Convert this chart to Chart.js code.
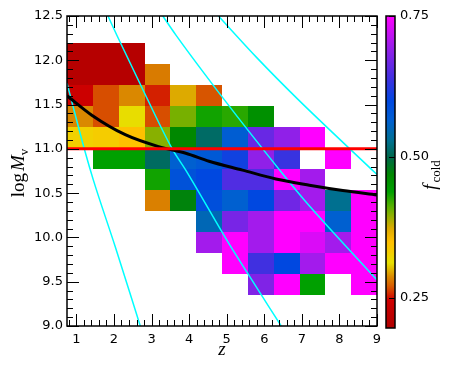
<!DOCTYPE html>
<html>
<head>
<meta charset="utf-8">
<script src="https://cdn.jsdelivr.net/npm/chart.js@4/dist/chart.umd.min.js"></script>
<style>
  html, body { margin: 0; padding: 0; background: #fff; }
</style>
</head>
<body>
<canvas id="chart" width="461" height="369"></canvas>
<script>
// bin edges of the 2D histogram
const zEdges = [0.75, 1.4375, 2.125, 2.8125, 3.5, 4.1875, 4.875, 5.5625, 6.25, 6.9375, 7.625, 8.3125, 9];
const massEdges = [12.2, 11.9625, 11.725, 11.4875, 11.25, 11.0125, 10.775, 10.5375, 10.3, 10.0625, 9.825, 9.5875, 9.35];

// f_cold per cell, rows from top (high mass) to bottom, null = empty
const fCold = [
  [0.21, 0.21, 0.21, null, null, null, null, null, null, null, null, null],
  [0.21, 0.21, 0.21, 0.285, null, null, null, null, null, null, null, null],
  [0.245, 0.27, 0.29, 0.258, 0.375, 0.272, null, null, null, null, null, null],
  [0.29, 0.27, 0.318, 0.27, 0.405, 0.435, 0.428, 0.46, null, null, null, null],
  [0.33, 0.335, 0.35, 0.40, 0.47, 0.512, 0.57, 0.665, 0.69, 0.75, null, null],
  [null, 0.44, 0.44, 0.51, 0.565, 0.575, 0.61, 0.69, 0.635, null, 0.75, null],
  [null, null, null, 0.435, 0.585, 0.60, 0.65, 0.65, 0.75, 0.70, null, null],
  [null, null, null, 0.287, 0.475, 0.59, 0.565, 0.60, 0.67, 0.70, 0.53, 0.75],
  [null, null, null, null, null, 0.55, 0.675, 0.70, 0.75, 0.75, 0.565, 0.75],
  [null, null, null, null, null, 0.70, 0.75, 0.70, 0.75, 0.73, 0.70, 0.75],
  [null, null, null, null, null, null, 0.75, 0.64, 0.60, 0.70, 0.75, 0.75],
  [null, null, null, null, null, null, null, 0.68, 0.75, 0.44, null, 0.75]
];

// overplotted curves (z, log Mv)
const cyanA = [{x: 0.75, y: 11.74}, {x: 1.23, y: 10.97}, {x: 1.45, y: 10.65}, {x: 2.03, y: 9.9}, {x: 2.7, y: 9.0}];
const cyanB = [{x: 1.84, y: 12.5}, {x: 2.08, y: 12.28}, {x: 2.79, y: 11.65}, {x: 3.55, y: 11.0}, {x: 3.91, y: 10.76}, {x: 5.06, y: 9.93}, {x: 5.55, y: 9.6}, {x: 6.45, y: 9.0}];
const cyanC = [{x: 3.30, y: 12.5}, {x: 3.64, y: 12.29}, {x: 4.98, y: 11.53}, {x: 6.41, y: 10.76}, {x: 7.07, y: 10.42}, {x: 9.0, y: 9.52}];
const cyanD = [{x: 4.78, y: 12.5}, {x: 5.8, y: 12.03}, {x: 6.87, y: 11.57}, {x: 9.0, y: 10.71}];
const blackCurve = [{x: 0.75, y: 11.6}, {x: 1.41, y: 11.38}, {x: 2.30, y: 11.16}, {x: 3.19, y: 11.025}, {x: 3.91, y: 10.95}, {x: 4.53, y: 10.86}, {x: 5.42, y: 10.76}, {x: 6.31, y: 10.66}, {x: 7.20, y: 10.59}, {x: 8.09, y: 10.53}, {x: 9.0, y: 10.48}];
const redLine = [{x: 0.75, y: 11.0}, {x: 9.0, y: 11.0}];

const xTicks = [1, 2, 3, 4, 5, 6, 7, 8, 9];
const yTicks = [9.0, 9.5, 10.0, 10.5, 11.0, 11.5, 12.0, 12.5];
const cbTicks = [0.25, 0.50, 0.75];

// colour map
const cmap = [
  [0.20, '#b00000'], [0.235, '#c40000'], [0.25, '#d00000'], [0.262, '#d53000'],
  [0.275, '#d86000'], [0.29, '#da8800'], [0.315, '#e6e000'], [0.335, '#f5cc00'],
  [0.352, '#ffc000'], [0.375, '#ddaa00'], [0.40, '#88b000'], [0.415, '#55b000'],
  [0.44, '#00a000'], [0.47, '#008800'], [0.50, '#006848'], [0.53, '#007090'],
  [0.565, '#0060d0'], [0.60, '#0048e0'], [0.64, '#4030e0'], [0.69, '#9020e8'],
  [0.75, '#ff00ff']
];

function hexRgb(h) {
  return [parseInt(h.slice(1, 3), 16), parseInt(h.slice(3, 5), 16), parseInt(h.slice(5, 7), 16)];
}
function colorFor(v) {
  if (v <= cmap[0][0]) return cmap[0][1];
  for (let i = 1; i < cmap.length; i++) {
    if (v <= cmap[i][0]) {
      const t = (v - cmap[i - 1][0]) / (cmap[i][0] - cmap[i - 1][0]);
      const a = hexRgb(cmap[i - 1][1]), b = hexRgb(cmap[i][1]);
      const c = a.map((ch, k) => Math.round(ch + (b[k] - ch) * t));
      return `rgb(${c[0]},${c[1]},${c[2]})`;
    }
  }
  return cmap[cmap.length - 1][1];
}

const tickFont = {family: 'DejaVu Sans', size: 13};

const heatmapPlugin = {
  id: 'heatmap',
  beforeDatasetsDraw(chart) {
    const {ctx, scales: {x, y}} = chart;
    ctx.save();
    fCold.forEach((row, i) => {
      row.forEach((v, j) => {
        if (v === null) return;
        const x0 = Math.round(x.getPixelForValue(zEdges[j]));
        const x1 = Math.round(x.getPixelForValue(zEdges[j + 1]));
        const y0 = Math.round(y.getPixelForValue(massEdges[i]));
        const y1 = Math.round(y.getPixelForValue(massEdges[i + 1]));
        ctx.fillStyle = colorFor(v);
        ctx.fillRect(x0, y0, x1 - x0, y1 - y0);
      });
    });
    ctx.restore();
  }
};

const framePlugin = {
  id: 'frame',
  afterDatasetsDraw(chart) {
    const {ctx, chartArea: a, scales: {x, y, cb}} = chart;
    ctx.save();
    ctx.strokeStyle = '#000';
    ctx.lineWidth = 1;
    ctx.beginPath();
    // x ticks, bottom and top, pointing inward
    for (let k = 4; k <= 45; k++) {
      const v = k / 5;
      if (v < 0.75 || v > 9) continue;
      const px = Math.round(x.getPixelForValue(v)) + 0.5;
      const len = k % 5 === 0 ? 12 : 6;
      ctx.moveTo(px, a.bottom); ctx.lineTo(px, a.bottom - len);
      ctx.moveTo(px, a.top); ctx.lineTo(px, a.top + len);
    }
    // y ticks, left and right
    for (let k = 90; k <= 125; k++) {
      const py = Math.round(y.getPixelForValue(k / 10)) + 0.5;
      const len = k % 5 === 0 ? 12 : 6;
      ctx.moveTo(a.left, py); ctx.lineTo(a.left + len, py);
      ctx.moveTo(a.right, py); ctx.lineTo(a.right - len, py);
    }
    ctx.stroke();
    ctx.lineWidth = 1.5;
    ctx.strokeRect(a.left, a.top, a.right - a.left, a.bottom - a.top);

    // colour bar
    const bx0 = a.right + 9, bx1 = a.right + 18;
    const top = cb.getPixelForValue(0.75), bot = cb.getPixelForValue(0.2) + 2;
    const g = ctx.createLinearGradient(0, bot, 0, top);
    cmap.forEach(([v, c]) => g.addColorStop((v - 0.2) / 0.55, c));
    ctx.fillStyle = g;
    ctx.fillRect(bx0, top, bx1 - bx0, bot - top);
    ctx.lineWidth = 1;
    ctx.beginPath();
    cbTicks.forEach(v => {
      const py = Math.round(cb.getPixelForValue(v)) + 0.5;
      ctx.moveTo(bx1, py); ctx.lineTo(bx1 - 6, py);
    });
    ctx.stroke();
    ctx.lineWidth = 1.5;
    ctx.strokeRect(bx0, top, bx1 - bx0, bot - top);
    ctx.restore();
  },
  afterDraw(chart) {
    const {ctx, chartArea: a} = chart;
    ctx.save();
    ctx.fillStyle = '#000';
    ctx.textBaseline = 'alphabetic';
    // x title
    ctx.font = 'italic 19px "Liberation Serif"';
    ctx.textAlign = 'center';
    ctx.fillText('z', (a.left + a.right) / 2, 355);

    // y title: log M_v
    const cy = (a.top + a.bottom) / 2 + 2;
    ctx.translate(24, cy);
    ctx.rotate(-Math.PI / 2);
    ctx.textAlign = 'left';
    const parts = [
      ['log', '19px "Liberation Serif"', 0],
      ['M', 'italic 19px "Liberation Serif"', 0],
      ['v', '13px "Liberation Serif"', 4]
    ];
    let w = 0;
    parts.forEach(p => { ctx.font = p[1]; w += ctx.measureText(p[0]).width; });
    w += 2;
    let px = -w / 2;
    parts.forEach((p, i) => {
      ctx.font = p[1];
      ctx.fillText(p[0], px, p[2]);
      px += ctx.measureText(p[0]).width + (i === 0 ? 2 : 0);
    });
    ctx.setTransform(1, 0, 0, 1, 0, 0);

    // colour bar title: f_cold
    ctx.translate(436, cy + 2);
    ctx.rotate(-Math.PI / 2);
    const cparts = [
      ['f', 'italic 19px "Liberation Serif"', 0],
      ['cold', '13px "Liberation Serif"', 4]
    ];
    w = 0;
    cparts.forEach(p => { ctx.font = p[1]; w += ctx.measureText(p[0]).width; });
    w += 2;
    px = -w / 2;
    cparts.forEach((p, i) => {
      ctx.font = p[1];
      ctx.fillText(p[0], px, p[2]);
      px += ctx.measureText(p[0]).width + (i === 0 ? 2 : 0);
    });
    ctx.restore();
  }
};

const lineDs = (data, color, width, order) => ({
  type: 'scatter',
  data: data,
  showLine: true,
  borderColor: color,
  backgroundColor: color,
  borderWidth: width,
  pointRadius: 0,
  cubicInterpolationMode: 'monotone',
  order: order
});

// keep the tick-label overflow from pushing the plot area down
const trimPad = s => { s.paddingTop = 0; s.paddingBottom = 0; };

new Chart(document.getElementById('chart'), {
  type: 'scatter',
  data: {
    datasets: [
      lineDs(redLine, '#ff0000', 3, 0),
      lineDs(blackCurve, '#000000', 3, 1),
      lineDs(cyanA, '#00ffff', 1.5, 2),
      lineDs(cyanB, '#00ffff', 1.5, 2),
      lineDs(cyanC, '#00ffff', 1.5, 2),
      lineDs(cyanD, '#00ffff', 1.5, 2)
    ]
  },
  options: {
    responsive: false,
    animation: false,
    layout: {padding: {top: 16, left: 0, right: 0, bottom: 0}},
    plugins: {legend: {display: false}, tooltip: {enabled: false}},
    scales: {
      x: {
        type: 'linear', position: 'bottom', min: 0.75, max: 9,
        grid: {display: false, drawTicks: false},
        border: {display: false},
        ticks: {font: tickFont, color: '#000', padding: 6, maxRotation: 0},
        afterBuildTicks: s => { s.ticks = xTicks.map(v => ({value: v})); },
        afterFit: s => { s.height = 43; s.paddingLeft = 0; s.paddingRight = 0; }
      },
      y: {
        type: 'linear', position: 'left', min: 9, max: 12.5,
        grid: {display: false, drawTicks: false},
        border: {display: false},
        ticks: {font: tickFont, color: '#000', padding: 4, callback: v => v.toFixed(1)},
        afterBuildTicks: s => { s.ticks = yTicks.map(v => ({value: v})); },
        afterFit: s => { s.width = 67; trimPad(s); }
      },
      cb: {
        type: 'linear', position: 'right', min: 0.2, max: 0.75,
        grid: {display: false, drawTicks: false},
        border: {display: false},
        ticks: {font: tickFont, color: '#000', padding: 23, callback: v => v.toFixed(2)},
        afterBuildTicks: s => { s.ticks = cbTicks.map(v => ({value: v})); },
        afterFit: s => { s.width = 84; trimPad(s); }
      }
    }
  },
  plugins: [heatmapPlugin, framePlugin]
});
</script>
</body>
</html>
